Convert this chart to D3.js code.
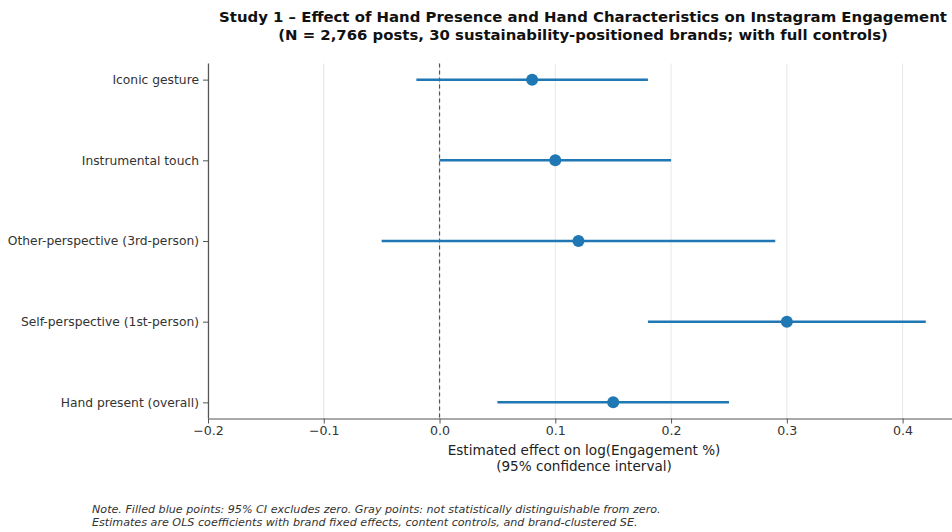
<!DOCTYPE html>
<html><head><meta charset="utf-8">
<script src="https://cdn.jsdelivr.net/npm/d3@7"></script>
<style>body{margin:0;background:#fff;} svg{display:block;font-family:"DejaVu Sans",sans-serif;}</style>
</head><body>
<svg id="c" width="952" height="532"></svg>
<script>
const categories = ["Iconic gesture","Instrumental touch","Other-perspective (3rd-person)","Self-perspective (1st-person)","Hand present (overall)"];
const estimates = [0.08, 0.10, 0.12, 0.30, 0.15];
const ciLow = [-0.02, 0.00, -0.05, 0.18, 0.05];
const ciHigh = [0.18, 0.20, 0.29, 0.42, 0.25];
const xTicks = [-0.2, -0.1, 0.0, 0.1, 0.2, 0.3, 0.4];
const titleLines = ["Study 1 – Effect of Hand Presence and Hand Characteristics on Instagram Engagement","(N = 2,766 posts, 30 sustainability-positioned brands; with full controls)"];
const xLabelLines = ["Estimated effect on log(Engagement %)","(95% confidence interval)"];
const noteLines = ["Note. Filled blue points: 95% CI excludes zero. Gray points: not statistically distinguishable from zero.","Estimates are OLS coefficients with brand fixed effects, content controls, and brand-clustered SE."];

const svg = d3.select("#c");
const L = 208, R = 960.5, T = 63.5, B = 418.5;
const x = d3.scaleLinear().domain([-0.2, 0.45]).range([L, R]);
const y = d3.scaleLinear().domain([-0.2, 4.2]).range([B, T]);
const blue = "#1f77b4";
const data = categories.map((c,i)=>({c, pos: categories.length-1-i, est: estimates[i], lo: ciLow[i], hi: ciHigh[i]}));

// grid
svg.append("g").selectAll("line").data(xTicks).join("line")
  .attr("x1", d=>x(d)).attr("x2", d=>x(d)).attr("y1", T).attr("y2", B)
  .attr("stroke", "#e6e6e6").attr("stroke-width", 1);
// zero line
svg.append("line").attr("x1", x(0)).attr("x2", x(0)).attr("y1", T).attr("y2", B)
  .attr("stroke", "#555").attr("stroke-width", 1.2).attr("stroke-dasharray", "4,3");

// CIs
svg.append("g").selectAll("line").data(data).join("line")
  .attr("x1", d=>x(d.lo)).attr("x2", d=>x(d.hi)).attr("y1", d=>y(d.pos)).attr("y2", d=>y(d.pos))
  .attr("stroke", blue).attr("stroke-width", 2.5);
svg.append("g").selectAll("circle").data(data).join("circle")
  .attr("cx", d=>x(d.est)).attr("cy", d=>y(d.pos)).attr("r", 6).attr("fill", blue);

// axes
const xa = svg.append("g").attr("transform", `translate(0,${B})`)
  .call(d3.axisBottom(x).tickValues(xTicks).tickSize(5).tickPadding(3).tickFormat(d=>d3.format(".1f")(d).replace("-", "\u2212")));
const ya = svg.append("g").attr("transform", `translate(${L},0)`)
  .call(d3.axisLeft(y).tickValues(data.map(d=>d.pos)).tickSize(5).tickPadding(4).tickFormat(p=>data.find(d=>d.pos===p).c));
[xa, ya].forEach(g=>{
  g.select(".domain").attr("stroke", "#555").attr("stroke-width", 1.2);
  g.selectAll(".tick line").attr("stroke", "#555");
  g.selectAll(".tick text").attr("fill", "#333").style("font-size", "12.3px").style("font-family", '"DejaVu Sans",sans-serif');
});
xa.selectAll(".tick text").style("font-size", "12.6px");
xa.select(".domain").attr("d", `M${L},0.5H952`);
ya.select(".domain").attr("d", `M0.5,${T}V${B}`);

// title
svg.append("g").selectAll("text").data(titleLines).join("text")
  .attr("x", 583).attr("y", (d,i)=>22 + i*18).attr("text-anchor", "middle")
  .attr("font-weight", "bold").attr("font-size", "14.9px").attr("fill", "#111").text(d=>d);
// xlabel
svg.append("g").selectAll("text").data(xLabelLines).join("text")
  .attr("x", 584).attr("y", (d,i)=>455 + i*16).attr("text-anchor", "middle")
  .attr("font-size", "13.6px").attr("fill", "#222").text(d=>d);
// note
svg.append("g").selectAll("text").data(noteLines).join("text")
  .attr("x", 92).attr("y", (d,i)=>513 + i*12.5).attr("font-style", "italic")
  .attr("font-size", "11.15px").attr("fill", "#333").text(d=>d);
</script>
</body></html>
